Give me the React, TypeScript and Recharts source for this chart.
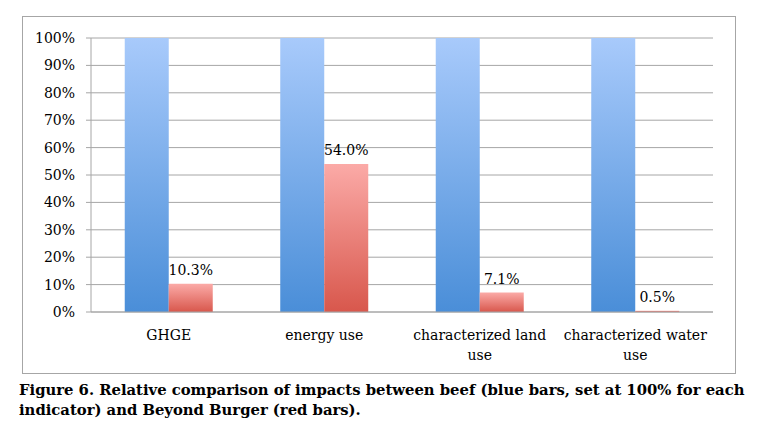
import React from "react";
import { BarChart, Bar, XAxis, YAxis, CartesianGrid, LabelList } from "recharts";

const categories = ["GHGE", "energy use", "characterized land\nuse", "characterized water\nuse"];
const beefValues = [100, 100, 100, 100];
const beyondValues = [10.3, 54.0, 7.1, 0.5];
const yTicks = [0, 10, 20, 30, 40, 50, 60, 70, 80, 90, 100];
const boundaryTicks = [0, 1, 2, 3, 4];
const captionLines = [
  "Figure 6. Relative comparison of impacts between beef (blue bars, set at 100% for each",
  "indicator) and Beyond Burger (red bars).",
];

const data = categories.map((name, i) => ({ name, beef: beefValues[i], beyond: beyondValues[i] }));

const FONT = "'DejaVu Serif', serif";

const CatTick = (props: any) => {
  const { x, y, payload } = props;
  const lines = String(payload.value).split("\n");
  return (
    <text x={x} y={y + 28} textAnchor="middle" fontFamily={FONT} fontSize={14} fill="#000">
      {lines.map((l, i) => (
        <tspan key={i} x={x} dy={i === 0 ? 0 : 20}>
          {l}
        </tspan>
      ))}
    </text>
  );
};

export default function App() {
  return (
    <div style={{ position: "relative", width: 760, height: 415 }}>
      <div
        style={{
          position: "absolute",
          left: 14,
          top: 8,
          width: 714,
          height: 358,
          border: "1px solid #a6a6a6",
          boxSizing: "border-box",
        }}
      />
      <div style={{ position: "absolute", left: 0, top: 0 }}>
        <BarChart
          width={760}
          height={380}
          data={data}
          margin={{ top: 30, right: 55, bottom: 16, left: 0 }}
          barCategoryGap="21.7%"
          barGap={0}
        >
          <defs>
            <linearGradient id="blueGrad" x1="0" y1="0" x2="0" y2="1">
              <stop offset="0%" stopColor="#a8cafb" />
              <stop offset="100%" stopColor="#4a8ed8" />
            </linearGradient>
            <linearGradient id="redGrad" x1="0" y1="0" x2="0" y2="1">
              <stop offset="0%" stopColor="#fbaaa7" />
              <stop offset="100%" stopColor="#d8574c" />
            </linearGradient>
          </defs>
          <CartesianGrid vertical={false} stroke="#a6a6a6" strokeWidth={1} />
          <XAxis
            xAxisId="cat"
            dataKey="name"
            height={60}
            axisLine={{ stroke: "#a6a6a6" }}
            tickLine={false}
            tickSize={0}
            tickMargin={0}
            interval={0}
            tick={<CatTick />}
          />
          <XAxis
            xAxisId="edges"
            type="number"
            domain={[0, 4]}
            ticks={boundaryTicks}
            height={0}
            axisLine={false}
            tickLine={{ stroke: "#a6a6a6" }}
            tickSize={5}
            tick={false}
          />
          <YAxis
            width={83}
            domain={[0, 100]}
            ticks={yTicks}
            interval={0}
            tickFormatter={(v: number) => `${v}%`}
            axisLine={{ stroke: "#a6a6a6" }}
            tickLine={{ stroke: "#a6a6a6" }}
            tickSize={5}
            tickMargin={11}
            tick={{ fontFamily: FONT, fontSize: 14, fill: "#000" }}
          />
          <Bar xAxisId="cat" dataKey="beef" fill="url(#blueGrad)" isAnimationActive={false} />
          <Bar xAxisId="cat" dataKey="beyond" fill="url(#redGrad)" isAnimationActive={false}>
            <LabelList
              dataKey="beyond"
              position="top"
              offset={9}
              formatter={(v: any) => `${Number(v).toFixed(1)}%`}
              style={{ fontFamily: FONT, fontSize: 14, fill: "#000" }}
            />
          </Bar>
        </BarChart>
      </div>
      <div
        style={{
          position: "absolute",
          left: 11,
          top: 372,
          fontFamily: "'DejaVu Serif', serif",
          fontWeight: "bold",
          fontSize: 14.8,
          lineHeight: "20px",
          color: "#000",
          whiteSpace: "nowrap",
        }}
      >
        {captionLines.map((l, i) => (
          <div key={i}>{l}</div>
        ))}
      </div>
    </div>
  );
}
